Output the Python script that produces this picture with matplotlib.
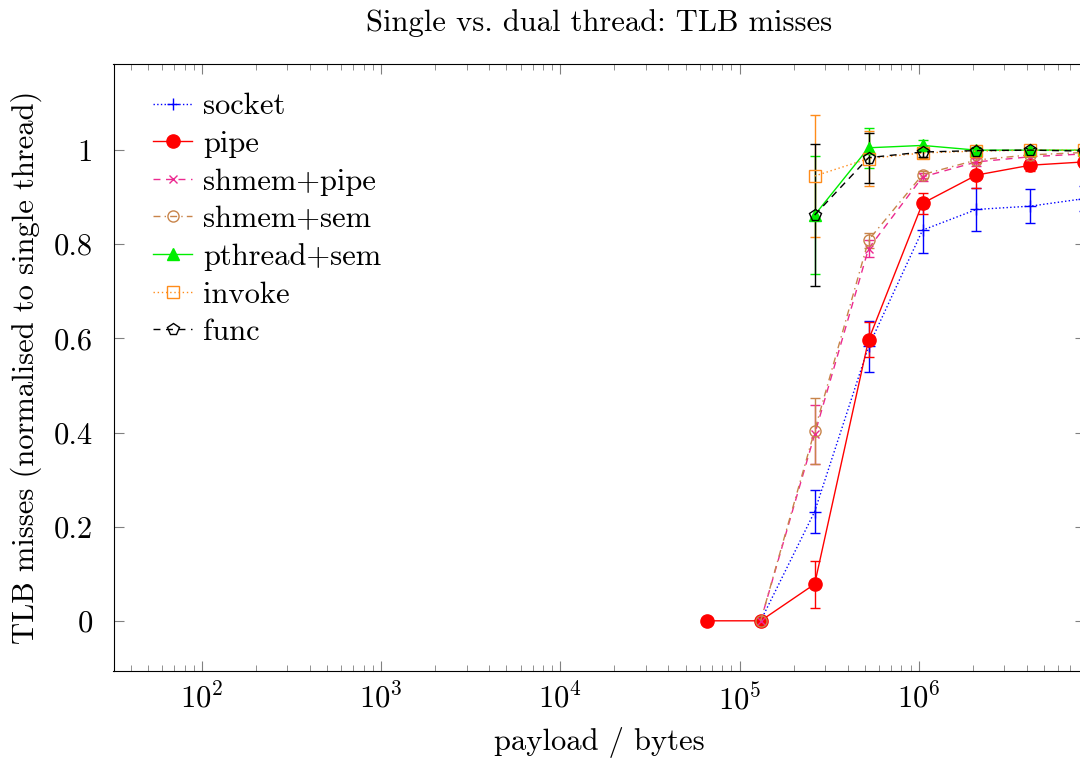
import matplotlib
matplotlib.use("Agg")
import matplotlib.pyplot as plt
import matplotlib.ticker as ticker

plt.rcParams['font.family'] = 'serif'
plt.rcParams['font.serif'] = ['cmr10']
plt.rcParams['mathtext.fontset'] = 'cm'
plt.rcParams['axes.formatter.use_mathtext'] = True

# payload sizes (bytes): 2^16 .. 2^23
payload = [65536, 131072, 262144, 524288, 1048576, 2097152, 4194304, 8388608]

# values normalised to single thread, with error bars
socket_y = [0.0, 0.232, 0.583, 0.830, 0.874, 0.881, 0.897]
socket_err = [0.0, 0.046, 0.055, 0.048, 0.045, 0.036, 0.026]
pipe_y = [0.0, 0.0, 0.078, 0.597, 0.887, 0.947, 0.968, 0.975]
pipe_err = [0.0, 0.0, 0.05, 0.037, 0.022, 0.028, 0.012, 0.010]
shmem_pipe_y = [0.0, 0.396, 0.791, 0.943, 0.975, 0.986, 0.992]
shmem_pipe_err = [0.0, 0.062, 0.018, 0.008, 0.008, 0.006, 0.005]
shmem_sem_y = [0.0, 0.404, 0.809, 0.948, 0.979, 0.990, 0.995]
shmem_sem_err = [0.0, 0.07, 0.016, 0.008, 0.006, 0.005, 0.004]
pthread_y = [0.862, 1.005, 1.010, 1.000, 1.000, 1.000]
pthread_err = [0.125, 0.042, 0.012, 0.006, 0.004, 0.004]
invoke_y = [0.945, 0.982, 0.994, 0.998, 1.0, 1.0]
invoke_err = [0.13, 0.058, 0.01, 0.005, 0.004, 0.004]
func_y = [0.862, 0.984, 0.996, 0.999, 1.0, 0.998]
func_err = [0.15, 0.053, 0.01, 0.005, 0.004, 0.004]

fs = 22

fig = plt.figure(figsize=(10.8, 7.62), dpi=100)
ax = fig.add_axes([113.5 / 1080, 91.3 / 762, 971 / 1080, 606.7 / 762])

kw = dict(capsize=3.6, elinewidth=1.0, linewidth=1.0, capthick=1.0)
c1 = ax.errorbar(payload[1:], socket_y, yerr=socket_err, color='#0000ff', ls=':',
                 marker='+', ms=9, mew=1.0, **kw)
c2 = ax.errorbar(payload, pipe_y, yerr=pipe_err, color='#ff0000', ls='-',
                 marker='o', ms=9.5, **kw)
c3 = ax.errorbar(payload[1:], shmem_pipe_y, yerr=shmem_pipe_err, color='#ec2a90', ls=(0, (5, 4)),
                 marker='x', ms=6, mew=1.0, **kw)
c4 = ax.errorbar(payload[1:], shmem_sem_y, yerr=shmem_sem_err, color='#c8844a', ls=(0, (5, 3, 1, 3)),
                 marker='o', ms=8, mfc='none', mew=1.0, **kw)
c5 = ax.errorbar(payload[2:], pthread_y, yerr=pthread_err, color='#00ee00', ls='-',
                 marker='^', ms=8.5, **kw)
c6 = ax.errorbar(payload[2:], invoke_y, yerr=invoke_err, color='#ff8c1a', ls=(0, (1, 2)),
                 marker='s', ms=8, mfc='none', mew=1.0, **kw)
c7 = ax.errorbar(payload[2:], func_y, yerr=func_err, color='black', ls=(0, (5, 4)),
                 marker='p', ms=8.5, mfc='none', mew=1.0, **kw)
labels = ['socket', 'pipe', 'shmem+pipe', 'shmem+sem', 'pthread+sem', 'invoke', 'func']

ax.set_xscale('log')
ax.set_xlim(32.1, 8.4e6)
ax.set_ylim(-0.106, 1.183)
ax.set_yticks([0, 0.2, 0.4, 0.6, 0.8, 1])
ax.yaxis.set_major_formatter(ticker.FuncFormatter(lambda v, p: '%g' % v))
ax.xaxis.set_major_locator(ticker.LogLocator(base=10, numticks=20))
ax.xaxis.set_minor_locator(ticker.LogLocator(base=10, subs=range(2, 10), numticks=20))
ax.xaxis.set_minor_formatter(ticker.NullFormatter())

ax.tick_params(which='both', direction='in', top=True, right=True, color='gray', labelsize=fs)
ax.tick_params(which='major', length=7)
ax.tick_params(which='minor', length=4)
ax.tick_params(axis='x', which='major', pad=9)
ax.tick_params(axis='y', which='major', pad=15)

ax.set_xlabel('payload / bytes', fontsize=fs, labelpad=8)
ax.set_ylabel('TLB misses (normalised to single thread)', fontsize=fs, labelpad=8)
ax.set_title('Single vs. dual thread: TLB misses', fontsize=fs, pad=24)

ax.legend([c[0] for c in (c1, c2, c3, c4, c5, c6, c7)], labels,
          loc='upper left', bbox_to_anchor=(0.0105, 1.0), frameon=False, fontsize=fs,
          handlelength=1.3, handletextpad=0.35, labelspacing=0.33, borderaxespad=0.55)

fig.savefig('out.png', dpi=100)
